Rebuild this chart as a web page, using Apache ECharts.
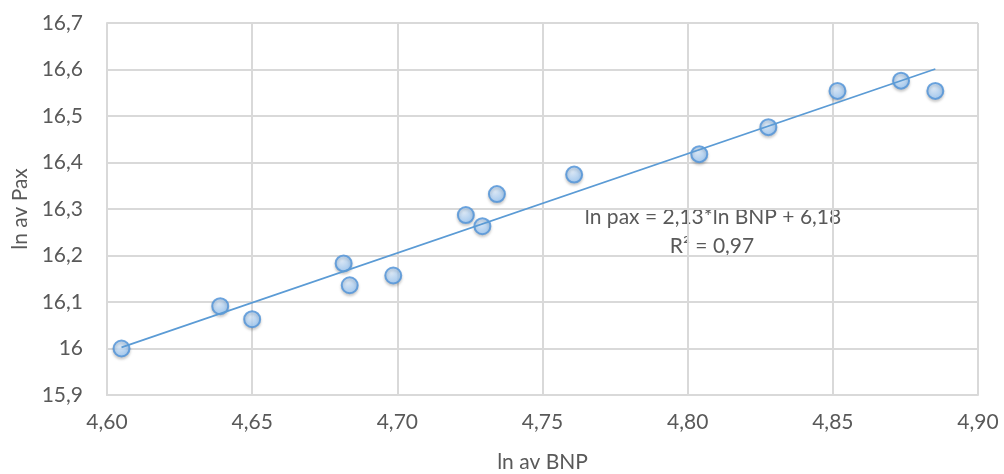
<!DOCTYPE html>
<html>
<head>
<meta charset="utf-8">
<script src="https://cdn.jsdelivr.net/npm/echarts@6/dist/echarts.min.js"></script>
<style>
  html, body { margin: 0; padding: 0; background: #fff; }
  #chart { width: 1004px; height: 474px; }
</style>
</head>
<body>
<div id="chart"></div>
<script>
  // ln av BNP (x) and ln av Pax (y)
  const bnp = [4.605, 4.639, 4.650, 4.6815, 4.6836, 4.6986, 4.7236, 4.7293, 4.7343, 4.7609, 4.804, 4.8278, 4.8516, 4.8735, 4.8853]
  const pax = [16.000, 16.091, 16.063, 16.183, 16.136, 16.157, 16.287, 16.263, 16.332, 16.374, 16.418, 16.476, 16.554, 16.576, 16.554]
  const xTickLabels = ['4,60', '4,65', '4,70', '4,75', '4,80', '4,85', '4,90']
  const yTickLabels = ['15,9', '16', '16,1', '16,2', '16,3', '16,4', '16,5', '16,6', '16,7']
  const equationLines = ['ln pax = 2,13*ln BNP + 6,18', 'R² = 0,97']

  // least squares trendline, like the spreadsheet does it
  const n = bnp.length
  const mx = bnp.reduce((a, b) => a + b, 0) / n
  const my = pax.reduce((a, b) => a + b, 0) / n
  let sxy = 0, sxx = 0
  for (let i = 0; i < n; i++) {
    sxy += (bnp[i] - mx) * (pax[i] - my)
    sxx += (bnp[i] - mx) * (bnp[i] - mx)
  }
  const slope = sxy / sxx
  const icept = my - slope * mx
  const xMin = Math.min(...bnp), xMax = Math.max(...bnp)
  const trend = [[xMin, icept + slope * xMin], [xMax, icept + slope * xMax]]

  const font = 'Lato, "Open Sans", sans-serif'
  const grey = '#595959'
  const gridCol = '#d9d9d9'
  const fs = 21

  const chart = echarts.init(document.getElementById('chart'))
  chart.setOption({
    animation: false,
    grid: { left: 107, right: 26, top: 23, bottom: 79, containLabel: false, outerBoundsMode: 'none' },
    xAxis: {
      type: 'value',
      min: 4.6, max: 4.9, interval: 0.05,
      name: 'ln av BNP',
      nameLocation: 'middle',
      nameGap: 57,
      nameTextStyle: { color: grey, fontFamily: font, fontSize: fs },
      axisLine: { show: true, lineStyle: { color: gridCol, width: 2 } },
      axisTick: { show: false },
      axisLabel: {
        color: grey, fontFamily: font, fontSize: fs, margin: 17,
        formatter: v => xTickLabels[Math.round((v - 4.6) / 0.05)]
      },
      splitLine: { show: true, lineStyle: { color: gridCol, width: 2 } }
    },
    yAxis: {
      type: 'value',
      min: 15.9, max: 16.7, interval: 0.1,
      name: 'ln av Pax',
      nameLocation: 'middle',
      nameGap: 72,
      nameTextStyle: { color: grey, fontFamily: font, fontSize: fs },
      axisLine: { show: true, lineStyle: { color: gridCol, width: 2 } },
      axisTick: { show: false },
      axisLabel: {
        color: grey, fontFamily: font, fontSize: fs, margin: 24,
        formatter: v => yTickLabels[Math.round((v - 15.9) / 0.1)]
      },
      splitLine: { show: true, lineStyle: { color: gridCol, width: 2 } }
    },
    series: [
      {
        type: 'scatter',
        symbol: 'circle',
        symbolSize: 16,
        z: 2,
        itemStyle: {
          color: new echarts.graphic.RadialGradient(0.4, 0.35, 0.7, [
            { offset: 0, color: '#dcecfd' },
            { offset: 1, color: '#8ec0f3' }
          ]),
          borderColor: '#4f92d8',
          borderWidth: 2,
          shadowColor: 'rgba(0,0,0,0.22)',
          shadowBlur: 3,
          shadowOffsetY: 2
        },
        data: bnp.map((x, i) => [x, pax[i]])
      },
      {
        type: 'line',
        z: 3,
        symbol: 'none',
        silent: true,
        lineStyle: { color: '#5b9bd5', width: 1.75 },
        data: trend
      }
    ],
    graphic: [
      {
        type: 'text',
        style: {
          x: 713, y: 217,
          text: equationLines[0],
          fill: grey, font: fs + 'px ' + font,
          textAlign: 'center', textVerticalAlign: 'middle'
        }
      },
      {
        type: 'text',
        style: {
          x: 712, y: 246,
          text: equationLines[1],
          fill: grey, font: fs + 'px ' + font,
          textAlign: 'center', textVerticalAlign: 'middle'
        }
      }
    ]
  })
  window.addEventListener('resize', () => chart.resize())
</script>
</body>
</html>
